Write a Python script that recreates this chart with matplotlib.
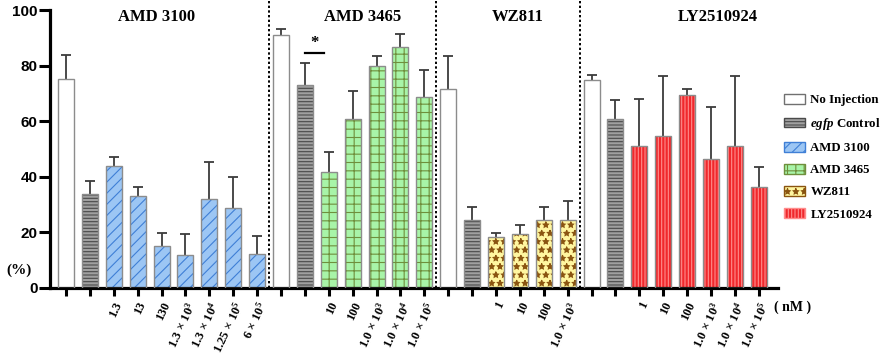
import matplotlib
matplotlib.use("Agg")
import matplotlib.pyplot as plt
from matplotlib.patches import Patch
import numpy as np

plt.rcParams['mathtext.fontset'] = 'custom'
plt.rcParams['mathtext.rm'] = 'Liberation Serif:bold'
plt.rcParams['mathtext.it'] = 'Liberation Serif:italic:bold'
plt.rcParams['mathtext.bf'] = 'Liberation Serif:bold'
plt.rcParams['hatch.linewidth'] = 0.8

# ---------------- data ----------------
groups = ['AMD 3100', 'AMD 3465', 'WZ811', 'LY2510924']

amd3100_labels = ['', '', '1.3', '13', '130', r'1.3$\,\times\,$10$^{3}$', r'1.3$\,\times\,$10$^{4}$',
                  r'1.25$\,\times\,$10$^{5}$', r'6$\,\times\,$10$^{5}$']
amd3100_means = [75.3, 33.8, 44.0, 32.9, 15.1, 11.7, 31.9, 28.8, 12.2]
amd3100_sd = [8.4, 4.8, 3.0, 3.5, 4.8, 7.7, 13.3, 11.0, 6.6]

amd3465_labels = ['', '', '10', '100', r'1.0$\,\times\,$10$^{3}$', r'1.0$\,\times\,$10$^{4}$',
                  r'1.0$\,\times\,$10$^{5}$']
amd3465_means = [91.1, 73.0, 41.8, 60.7, 79.9, 86.8, 68.7]
amd3465_sd = [1.9, 8.0, 7.2, 10.3, 3.7, 4.6, 9.7]

wz811_labels = ['', '', '1', '10', '100', r'1.0$\,\times\,$10$^{3}$']
wz811_means = [71.7, 24.5, 18.2, 19.4, 24.5, 24.5]
wz811_sd = [11.8, 4.5, 1.5, 3.1, 4.7, 6.8]

ly_labels = ['', '', '1', '10', '100', r'1.0$\,\times\,$10$^{3}$', r'1.0$\,\times\,$10$^{4}$',
             r'1.0$\,\times\,$10$^{5}$']
ly_means = [74.8, 60.7, 51.2, 54.6, 69.3, 46.5, 51.2, 36.2]
ly_sd = [1.7, 6.8, 16.7, 21.7, 2.3, 18.6, 24.9, 7.4]

legend_labels = ['No Injection', r'$\mathit{egfp}$ Control', 'AMD 3100', 'AMD 3465', 'WZ811', 'LY2510924']

# styles: (face, hatchcolor, hatch)
styles = {
    'none': ('white', '#909090', ''),
    'egfp': ('#a0a0a0', '#4a4a4a', '-----'),
    'AMD 3100': ('#9cc6f4', '#3f7fd6', '///'),
    'AMD 3465': ('#a8f4a8', '#6f8f3c', '++'),
    'WZ811': ('#fff6a0', '#8a5410', '**'),
    'LY2510924': ('#f0282c', '#ff8c8c', '|||||'),
}

group_data = [
    ('AMD 3100', amd3100_labels, amd3100_means, amd3100_sd),
    ('AMD 3465', amd3465_labels, amd3465_means, amd3465_sd),
    ('WZ811', wz811_labels, wz811_means, wz811_sd),
    ('LY2510924', ly_labels, ly_means, ly_sd),
]
title_x = [3.8, 12.4, 18.9, 27.3]

fig = plt.figure(figsize=(8.86, 3.55), dpi=100)
ax = fig.add_axes([0.0564, 0.189, 0.8216, 0.811])

bw = 0.67
pos = 0
all_pos, all_labels = [], []
sep_positions = []
for gi, (g, labels, means, sd) in enumerate(group_data):
    n = len(means)
    xs = np.arange(pos, pos + n)
    for k, (x, m) in enumerate(zip(xs, means)):
        key = 'none' if k == 0 else ('egfp' if k == 1 else g)
        face, hc, hatch = styles[key]
        ax.bar(x, m, width=bw, color=face, edgecolor=hc, hatch=hatch, linewidth=0, zorder=2)
        ax.bar(x, m, width=bw, fill=False, edgecolor='#8c8c8c', linewidth=1.0, zorder=3)
    ax.errorbar(xs, means, yerr=sd, fmt='none', ecolor='#3c3c3c', elinewidth=1.3,
                capsize=3.5, capthick=1.3, zorder=1)
    ax.text(title_x[gi], 97.6, g, ha='center', va='center', fontsize=12,
            fontweight='bold', family='Liberation Serif')
    all_pos += list(xs)
    all_labels += labels
    pos += n
    if gi < len(group_data) - 1:
        sep_positions.append(pos - 0.5)

for s in sep_positions:
    ax.axvline(s, ymin=0, ymax=1, color='black', linestyle=(0, (1.2, 1.2)), linewidth=1.4, zorder=4)

# significance marker
y_sig = 84.6
ax.plot([10.0, 10.8], [y_sig, y_sig], color='black', linewidth=1.6, zorder=4)
ax.text(10.4, y_sig + 0.5, '*', ha='center', va='bottom', fontsize=12, fontweight='bold',
        family='Liberation Serif')

ax.set_xlim(-0.67, 29.8)
ax.set_ylim(0, 103.6)
ax.spines['top'].set_visible(False)
ax.spines['right'].set_visible(False)
ax.spines['left'].set_bounds(0, 100)
ax.spines['left'].set_linewidth(2.3)
ax.spines['bottom'].set_linewidth(2.3)
ax.set_yticks([0, 20, 40, 60, 80, 100])
ax.tick_params(axis='y', length=8, width=2.2, labelsize=11, pad=1)
for t in ax.get_yticklabels():
    t.set_fontweight('bold')
    t.set_family('Liberation Sans')
ax.set_xticks(all_pos)
ax.set_xticklabels(all_labels, rotation=65, ha='right', va='top', rotation_mode='anchor',
                   fontsize=9, fontweight='bold', family='Liberation Serif')
ax.tick_params(axis='x', length=6, width=2.2, pad=2.5)

fig.text(0.022, 0.24, '(%)', ha='center', va='center', fontsize=11, fontweight='bold',
         family='Liberation Serif')
fig.text(0.895, 0.135, '( nM )', ha='center', va='center', fontsize=10, fontweight='bold',
         family='Liberation Serif')

handles = []
keys = ['none', 'egfp', 'AMD 3100', 'AMD 3465', 'WZ811', 'LY2510924']
for k in keys:
    face, hc, hatch = styles[k]
    edge = '#707070' if k == 'none' else hc
    handles.append(Patch(facecolor=face, edgecolor=edge, hatch=hatch, linewidth=1.0))
leg = fig.legend(handles, legend_labels, loc='upper left', bbox_to_anchor=(0.879, 0.75),
                 frameon=False, handlelength=1.6, handleheight=0.8, labelspacing=0.75,
                 handletextpad=0.45, borderaxespad=0,
                 prop={'family': 'Liberation Serif', 'weight': 'bold', 'size': 9.3})

fig.savefig('out.png', dpi=100)
